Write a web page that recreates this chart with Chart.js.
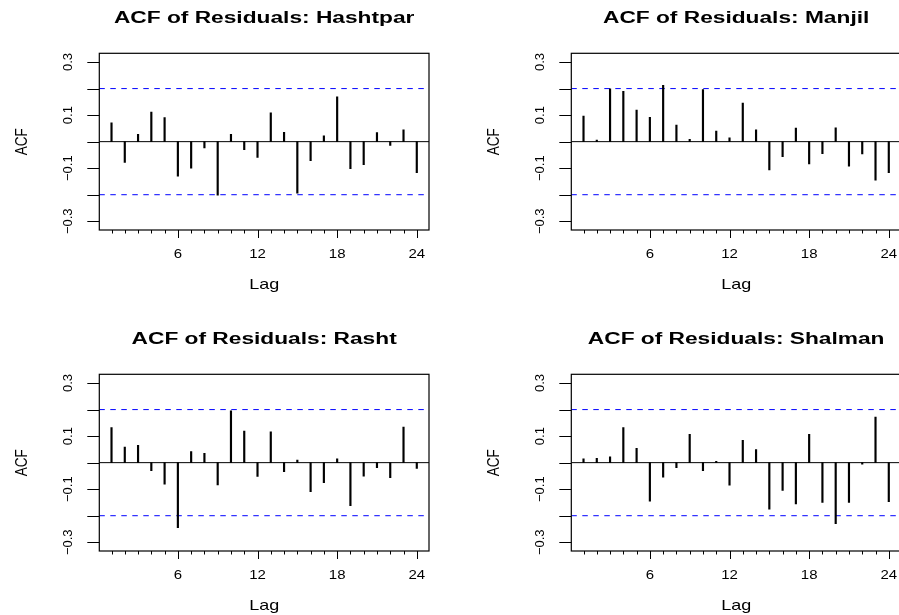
<!DOCTYPE html>
<html>
<head>
<meta charset="utf-8">
<script src="https://cdn.jsdelivr.net/npm/chart.js@4.4.1/dist/chart.umd.min.js"></script>
<style>
  html, body { margin: 0; padding: 0; background: #fff; overflow: hidden; }
  #fig { position: relative; width: 944px; height: 642px; }
  #fig canvas { position: absolute; }
</style>
</head>
<body>
<div id="fig">
  <canvas id="c0" width="472" height="321" style="left:0;top:0"></canvas>
  <canvas id="c1" width="472" height="321" style="left:472px;top:0"></canvas>
  <canvas id="c2" width="472" height="321" style="left:0;top:321px"></canvas>
  <canvas id="c3" width="472" height="321" style="left:472px;top:321px"></canvas>
</div>
<script>
var lags = [1, 2, 3, 4, 5, 6, 7, 8, 9, 10, 11, 12, 13, 14, 15, 16, 17, 18, 19, 20, 21, 22, 23, 24]
var stations = ['Hashtpar', 'Manjil', 'Rasht', 'Shalman']

var acfHashtpar = [0.071, -0.078, 0.028, 0.111, 0.091, -0.130, -0.100, -0.024, -0.202, 0.028, -0.030, -0.059,
                   0.109, 0.035, -0.194, -0.072, 0.022, 0.169, -0.102, -0.087, 0.034, -0.014, 0.045, -0.117]
var acfManjil   = [0.096, 0.006, 0.199, 0.190, 0.119, 0.092, 0.212, 0.062, 0.009, 0.196, 0.040, 0.014,
                   0.145, 0.045, -0.107, -0.057, 0.051, -0.084, -0.045, 0.052, -0.092, -0.046, -0.145, -0.117]
var acfRasht    = [0.132, 0.059, 0.065, -0.030, -0.081, -0.245, 0.042, 0.035, -0.084, 0.195, 0.119, -0.052,
                   0.116, -0.034, 0.010, -0.109, -0.075, 0.014, -0.162, -0.051, -0.019, -0.057, 0.134, -0.022]
var acfShalman  = [0.014, 0.016, 0.022, 0.132, 0.054, -0.145, -0.055, -0.019, 0.107, -0.030, 0.005, -0.085,
                   0.084, 0.049, -0.175, -0.105, -0.156, 0.107, -0.150, -0.230, -0.150, -0.006, 0.172, -0.147]

var clim = 0.2
var xMin = 0.08, xMax = 24.92
var yMin = -0.333, yMax = 0.333
// R puts a tick at every 0.1 but drops the labels that would overlap
var yTicks = [-0.3, -0.2, -0.1, 0, 0.1, 0.2, 0.3]
var yTickLabels = ['\u22120.3', '', '\u22120.1', '', '0.1', '', '0.3']
var xTicks = [6, 12, 18, 24]
var xTickLabels = ['6', '12', '18', '24']

var allAcf = [acfHashtpar, acfManjil, acfRasht, acfShalman]
var fam = '"Liberation Sans", Arial, sans-serif'

function drawText (ctx, s, x, y, font, stretch, rot) {
  ctx.save()
  ctx.translate(x, y)
  ctx.scale(stretch, 1)
  ctx.rotate(rot)
  ctx.font = font
  ctx.textAlign = 'center'
  ctx.textBaseline = 'alphabetic'
  ctx.fillText(s, 0, 0)
  ctx.restore()
}

// box, tick marks and all text drawn the way R does it
var rAxes = {
  id: 'rAxes',
  afterDraw (chart, args, opts) {
    const ctx = chart.ctx
    const a = chart.chartArea
    const sx = chart.scales.x
    const sy = chart.scales.y
    const cx = (a.left + a.right) / 2
    const cy = (a.top + a.bottom) / 2
    ctx.save()
    ctx.strokeStyle = '#000'
    ctx.lineWidth = 1.2
    ctx.strokeRect(a.left, a.top, a.right - a.left, a.bottom - a.top)
    ctx.lineWidth = 1
    ctx.beginPath()
    lags.forEach(function (l) {
      const x = Math.round(sx.getPixelForValue(l)) + 0.5
      const len = xTicks.includes(l) ? 8 : 3.5
      ctx.moveTo(x, a.bottom)
      ctx.lineTo(x, a.bottom + len)
    })
    yTicks.forEach(function (v) {
      const y = Math.round(sy.getPixelForValue(v)) + 0.5
      ctx.moveTo(a.left - 12, y)
      ctx.lineTo(a.left, y)
    })
    ctx.stroke()

    ctx.fillStyle = '#000'
    drawText(ctx, opts.title, cx, 23.3, 'bold 16px ' + fam, 1.42, 0)
    xTicks.forEach(function (v, i) {
      drawText(ctx, xTickLabels[i], sx.getPixelForValue(v), a.bottom + 28.3, '12px ' + fam, 1.25, 0)
    })
    drawText(ctx, 'Lag', cx, a.bottom + 59.3, '15px ' + fam, 1.2, 0)
    yTicks.forEach(function (v, i) {
      if (yTickLabels[i]) {
        drawText(ctx, yTickLabels[i], a.left - 27.6, sy.getPixelForValue(v), '13px ' + fam, 1, -Math.PI / 2)
      }
    })
    drawText(ctx, 'ACF', a.left - 72.6, cy, '13.5px ' + fam, 1.2, -Math.PI / 2)
    ctx.restore()
  }
}

function makePanel (i) {
  const acf = allAcf[i]
  const ctx = document.getElementById('c' + i)
  new Chart(ctx, {
    type: 'bar',
    data: {
      datasets: [
        {
          type: 'bar',
          data: lags.map((l, k) => ({ x: l, y: acf[k] })),
          backgroundColor: '#000',
          borderWidth: 0,
          barThickness: 1.5
        },
        {
          type: 'line',
          data: [{ x: xMin, y: 0 }, { x: xMax, y: 0 }],
          borderColor: '#000',
          borderWidth: 1,
          pointRadius: 0
        },
        {
          type: 'line',
          data: [{ x: xMin, y: clim }, { x: xMax, y: clim }],
          borderColor: '#0000ff',
          borderWidth: 1,
          borderDash: [5.5, 5.5],
          pointRadius: 0
        },
        {
          type: 'line',
          data: [{ x: xMin, y: -clim }, { x: xMax, y: -clim }],
          borderColor: '#0000ff',
          borderWidth: 1,
          borderDash: [5.5, 5.5],
          pointRadius: 0
        }
      ]
    },
    options: {
      responsive: false,
      animation: false,
      devicePixelRatio: 1,
      layout: { padding: { left: 99.3, right: 43, top: 53.3, bottom: 91 } },
      scales: {
        x: { type: 'linear', min: xMin, max: xMax, offset: false, display: false },
        y: { type: 'linear', min: yMin, max: yMax, display: false }
      },
      plugins: {
        legend: { display: false },
        tooltip: { enabled: false },
        rAxes: { title: 'ACF of Residuals: ' + stations[i] }
      }
    },
    plugins: [rAxes]
  })
}

for (var i = 0; i < stations.length; i++) makePanel(i)
</script>
</body>
</html>
